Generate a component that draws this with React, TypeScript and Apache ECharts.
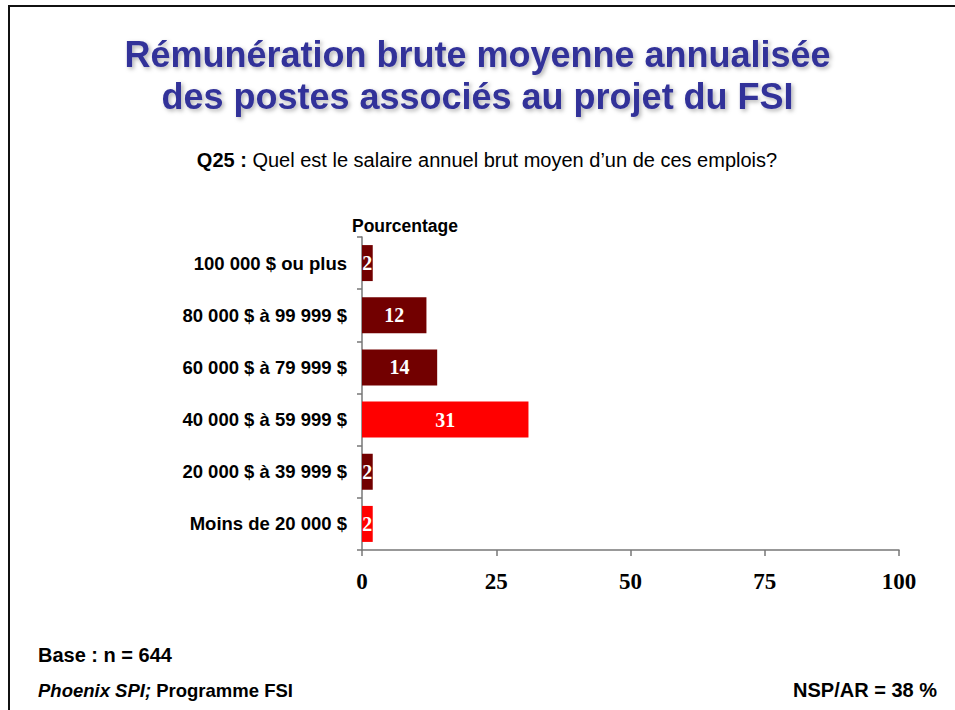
import React, { useEffect, useRef } from "react";
import * as echarts from "echarts";

const categories = [
  "100 000 $ ou plus",
  "80 000 $ à 99 999 $",
  "60 000 $ à 79 999 $",
  "40 000 $ à 59 999 $",
  "20 000 $ à 39 999 $",
  "Moins de 20 000 $",
];
const values = [2, 12, 14, 31, 2, 2];
const barColors = ["#720000", "#720000", "#720000", "#FF0000", "#720000", "#FF0000"];
const xTicks = [0, 25, 50, 75, 100];

const titleLine1 = "Rémunération brute moyenne annualisée";
const titleLine2 = "des postes associés au projet du FSI";
const questionBold = "Q25 :";
const questionText = " Quel est le salaire annuel brut moyen d’un de ces emplois?";
const axisName = "Pourcentage";
const baseText = "Base : n = 644";
const sourceItalic = "Phoenix SPI;";
const sourceText = " Programme FSI";
const nspText = "NSP/AR = 38 %";

export default function App() {
  const ref = useRef<HTMLDivElement>(null);
  useEffect(() => {
    if (!ref.current) return;
    const chart = echarts.init(ref.current, null, { renderer: "svg" });
    const sans = "'Liberation Sans', Arial, sans-serif";
    const serif = "'Liberation Serif', 'Times New Roman', serif";
    const titleStyle = {
      fontFamily: sans,
      fontSize: 36,
      fontWeight: "bold" as const,
      color: "#333399",
      textShadowColor: "rgba(0,0,0,0.3)",
      textShadowBlur: 4,
      textShadowOffsetX: 2,
      textShadowOffsetY: 2,
    };
    chart.setOption({
      animation: false,
      backgroundColor: "#ffffff",
      title: [
        { text: titleLine1, left: "center", top: 31, textStyle: titleStyle },
        { text: titleLine2, left: "center", top: 73, textStyle: titleStyle },
      ],
      graphic: [
        {
          type: "rect",
          shape: { x: 9, y: 6, width: 1000, height: 800 },
          style: { fill: "none", stroke: "#111", lineWidth: 2 },
          silent: true,
        },
        {
          type: "text",
          x: 487,
          y: 160,
          style: {
            text: "{b|" + questionBold + "}{n|" + questionText + "}",
            align: "center",
            verticalAlign: "middle",
            rich: {
              b: { fontFamily: sans, fontSize: 20, fontWeight: "bold", fill: "#000" },
              n: { fontFamily: sans, fontSize: 20, fill: "#000" },
            },
          } as any,
        },
        {
          type: "text",
          x: 352,
          y: 226,
          style: {
            text: axisName,
            fontFamily: sans,
            fontSize: 17.5,
            fontWeight: "bold",
            fill: "#000",
            verticalAlign: "middle",
          },
        },
        {
          type: "text",
          x: 38,
          y: 655,
          style: {
            text: baseText,
            fontFamily: sans,
            fontSize: 20,
            fontWeight: "bold",
            fill: "#000",
            verticalAlign: "middle",
          },
        },
        {
          type: "text",
          x: 38,
          y: 690,
          style: {
            text: "{i|" + sourceItalic + "}{b|" + sourceText + "}",
            verticalAlign: "middle",
            rich: {
              i: { fontFamily: sans, fontSize: 18.5, fontWeight: "bold", fontStyle: "italic", fill: "#000" },
              b: { fontFamily: sans, fontSize: 18.5, fontWeight: "bold", fill: "#000" },
            },
          } as any,
        },
        {
          type: "text",
          x: 937,
          y: 690,
          style: {
            text: nspText,
            fontFamily: sans,
            fontSize: 20,
            fontWeight: "bold",
            fill: "#000",
            align: "right",
            verticalAlign: "middle",
          },
        },
      ],
      grid: { left: 362, right: 56, top: 237, bottom: 160, containLabel: false },
      xAxis: {
        type: "value",
        min: xTicks[0],
        max: xTicks[xTicks.length - 1],
        interval: 25,
        splitLine: { show: false },
        axisLine: { show: true, lineStyle: { color: "#777", width: 1.5 } },
        axisTick: { show: true, length: 6, lineStyle: { color: "#777", width: 1.5 } },
        axisLabel: {
          fontFamily: serif,
          fontSize: 23,
          fontWeight: "bold",
          color: "#000",
          margin: 20,
        },
      },
      yAxis: {
        type: "category",
        data: categories,
        inverse: true,
        axisLine: { show: true, lineStyle: { color: "#777", width: 1.5 } },
        axisTick: { show: true, length: 5, lineStyle: { color: "#777", width: 1.5 } },
        axisLabel: {
          fontFamily: sans,
          fontSize: 18.5,
          fontWeight: "bold",
          color: "#000",
          margin: 15,
        },
      },
      series: [
        {
          type: "bar",
          data: values.map((v, i) => ({ value: v, itemStyle: { color: barColors[i] } })),
          barCategoryGap: "31%",
          label: {
            show: true,
            position: "inside",
            fontFamily: serif,
            fontSize: 20,
            fontWeight: "bold",
            color: "#fff",
          },
        },
      ],
    });
    return () => chart.dispose();
  }, []);
  return (
    <div
      ref={ref}
      style={{ position: "absolute", left: 0, top: 0, width: 955, height: 710 }}
    />
  );
}
